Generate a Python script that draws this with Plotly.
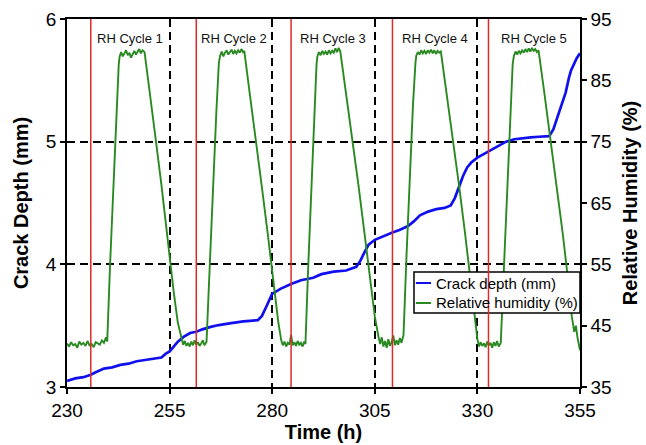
import plotly.graph_objects as go

# ---------------- data ----------------
crack_hours = [230.0, 232.0, 234.0, 235.8, 237.0, 239.0, 241.0, 243.0, 245.0, 247.0,
               249.0, 251.0, 253.0, 254.0, 255.0, 256.0, 257.0, 258.5, 260.0, 261.5,
               263.0, 265.0, 267.0, 270.0, 273.0, 276.5, 277.5, 278.5, 279.3, 280.0,
               281.0, 282.0, 284.6, 287.0, 290.0, 292.0, 295.0, 298.0, 300.5, 301.5,
               302.5, 303.5, 305.0, 307.0, 309.3, 311.0, 313.0, 314.5, 316.0, 318.0,
               320.0, 322.0, 323.5, 324.5, 325.5, 326.5, 327.5, 328.5, 330.0, 332.8,
               335.0, 337.0, 339.0, 341.0, 343.0, 345.0, 347.5, 348.5, 349.5, 350.5,
               351.5, 352.3, 352.8, 353.5, 354.2, 355.0]
crack_mm = [3.05, 3.07, 3.08, 3.10, 3.12, 3.15, 3.16, 3.18, 3.19, 3.21,
            3.22, 3.23, 3.24, 3.27, 3.29, 3.33, 3.37, 3.41, 3.44, 3.45,
            3.47, 3.49, 3.505, 3.52, 3.535, 3.545, 3.58, 3.65, 3.71, 3.76,
            3.78, 3.80, 3.84, 3.87, 3.89, 3.92, 3.94, 3.95, 3.98, 4.03,
            4.10, 4.16, 4.20, 4.23, 4.26, 4.28, 4.31, 4.35, 4.40, 4.43,
            4.45, 4.46, 4.48, 4.54, 4.63, 4.72, 4.79, 4.83, 4.87, 4.92,
            4.96, 5.00, 5.02, 5.03, 5.035, 5.04, 5.045, 5.10, 5.20, 5.30,
            5.40, 5.52, 5.58, 5.63, 5.68, 5.72]

rh_hours = [230.0, 230.5, 231.0, 231.5, 232.0, 232.5, 233.0, 233.5, 234.0, 234.5,
            235.0, 235.5, 236.0, 236.5, 237.0, 237.5, 238.0, 238.5, 239.0, 239.5,
            239.8, 240.5, 241.3, 242.0, 242.6,
            242.8, 243.2, 243.6, 244.0, 244.4, 244.8, 245.2, 245.6, 246.0, 246.4,
            246.8, 247.2, 247.6, 248.0, 248.4, 248.9,
            250.0, 251.5, 253.0, 254.5, 256.0, 257.0, 257.9,
            258.3, 258.7, 259.1, 259.5, 259.9, 260.3, 260.7, 261.1, 261.5, 261.9,
            262.3, 262.7, 263.1, 263.5, 264.0,
            264.8, 265.6, 266.4, 267.0,
            267.3, 267.7, 268.1, 268.5, 268.9, 269.3, 269.7, 270.1, 270.5, 270.9,
            271.3, 271.7, 272.1, 272.5, 272.9, 273.2,
            274.5, 276.0, 277.5, 279.0, 280.5, 281.5, 282.2,
            282.6, 283.0, 283.4, 283.8, 284.2, 284.6, 285.0, 285.4, 285.8, 286.2,
            286.6, 287.0, 287.4, 287.8, 288.1,
            288.8, 289.6, 290.3, 290.8,
            291.0, 291.4, 291.8, 292.2, 292.6, 293.0, 293.4, 293.8, 294.2, 294.6,
            295.0, 295.4, 295.8, 296.2, 296.6,
            298.0, 299.5, 301.0, 302.5, 304.0, 305.0, 305.9,
            306.3, 306.7, 307.1, 307.5, 307.9, 308.3, 308.7, 309.1, 309.5, 309.9,
            310.3, 310.7, 311.1, 311.5, 312.0,
            312.7, 313.5, 314.3, 314.9,
            315.1, 315.5, 315.9, 316.3, 316.7, 317.1, 317.5, 317.9, 318.3, 318.7,
            319.1, 319.5, 319.9, 320.3, 320.7, 321.1,
            322.5, 324.0, 325.5, 327.0, 328.5, 329.3, 330.0,
            330.4, 330.8, 331.2, 331.6, 332.0, 332.4, 332.8, 333.2, 333.6, 334.0,
            334.4, 334.8, 335.2, 335.7,
            336.5, 337.3, 338.0, 338.6,
            338.9, 339.3, 339.7, 340.1, 340.5, 340.9, 341.3, 341.7, 342.1, 342.5,
            342.9, 343.3, 343.7, 344.1, 344.5, 344.9,
            346.3, 347.8, 349.3, 350.8, 352.0, 353.0, 353.6, 354.0, 354.4, 355.0]
rh_pct = [42.1, 41.6, 42.3, 41.8, 42.0, 41.4, 42.4, 41.9, 42.2, 41.7,
          42.5, 41.8, 42.0, 41.5, 42.3, 42.1, 41.9, 42.6, 42.2, 43.1,
          42.4, 55.0, 68.0, 80.0, 87.5,
          88.8, 89.6, 88.9, 89.3, 89.9, 89.1, 89.5, 88.7, 89.4, 89.8,
          89.2, 89.6, 90.1, 89.4, 89.9, 89.6,
          83.5, 76.0, 68.0, 59.0, 50.5, 45.5, 42.8,
          41.9, 42.5, 41.7, 42.2, 41.6, 42.4, 41.8, 42.6, 41.9, 42.3,
          41.7, 42.1, 42.6, 41.8, 42.4,
          55.0, 68.0, 80.0, 87.8,
          89.0, 89.7, 88.9, 89.5, 89.9, 89.2, 89.6, 90.0, 89.3, 89.8,
          89.4, 89.9, 89.5, 90.1, 89.6, 89.8,
          83.0, 75.5, 67.5, 59.5, 51.0, 45.5, 42.6,
          41.8, 42.4, 41.6, 42.2, 41.9, 43.5, 41.8, 42.3, 41.7, 42.5,
          41.9, 42.2, 41.6, 42.4, 42.0,
          55.0, 69.0, 80.0, 87.6,
          88.9, 89.6, 89.1, 89.8, 89.3, 89.7, 89.2, 89.9, 89.4, 89.8,
          89.5, 90.2, 89.6, 90.3, 89.7,
          83.0, 75.5, 68.0, 60.0, 52.0, 46.5, 43.2,
          42.0, 43.1, 41.6, 42.5, 41.4, 42.8, 41.7, 42.3, 43.4, 41.8,
          42.6, 41.9, 43.0, 42.2, 43.5,
          56.0, 69.0, 81.0, 87.8,
          89.0, 89.6, 89.2, 89.9, 89.4, 89.8, 89.3, 89.9, 89.5, 90.0,
          89.4, 89.9, 89.3, 89.8, 89.5, 89.7,
          83.0, 75.5, 68.0, 60.0, 51.5, 46.5, 42.8,
          41.6, 42.3, 41.7, 42.1, 41.5, 42.4, 41.8, 42.2, 41.4, 42.3,
          41.7, 42.5, 41.6, 42.2,
          55.0, 68.0, 80.0, 87.7,
          89.0, 89.7, 89.2, 89.8, 89.4, 89.9, 89.5, 90.1, 89.6, 90.2,
          89.7, 90.3, 89.8, 90.1, 89.6, 89.9,
          83.0, 75.5, 68.0, 60.0, 53.0, 46.5, 44.0, 45.0, 43.0, 41.0]

cycle_start = [235.8, 261.5, 284.6, 309.3, 332.7]
cycle_end = [255, 280, 305, 330, 355]
cycle_labels = ["RH Cycle 1", "RH Cycle 2", "RH Cycle 3", "RH Cycle 4", "RH Cycle 5"]

x_ticks = [230, 255, 280, 305, 330, 355]
y_ticks = [3, 4, 5, 6]
rh_ticks = [35, 45, 55, 65, 75, 85, 95]

series_names = ["Crack depth (mm)", "Relative humidity (%)"]
BLUE = "#1010ee"
GREEN = "#2a8a22"
RED = "#e02828"
FONT = "Liberation Sans, Arial, Helvetica, sans-serif"

fig = go.Figure()
fig.add_trace(go.Scatter(x=rh_hours, y=rh_pct, mode="lines", yaxis="y2",
                         name=series_names[1], showlegend=False,
                         line=dict(color=GREEN, width=1.9)))
fig.add_trace(go.Scatter(x=crack_hours, y=crack_mm, mode="lines",
                         name=series_names[0], showlegend=False,
                         line=dict(color=BLUE, width=2.7)))

# custom legend box (opaque, drawn over data, under the red markers)
fig.add_shape(type="rect", xref="paper", yref="paper",
              x0=0.6764, x1=1.0, y0=0.201, y1=0.3125,
              fillcolor="white", line=dict(color="black", width=1.5), layer="above")
for yy, col, nm in [(0.2826, BLUE, series_names[0]), (0.2283, GREEN, series_names[1])]:
    fig.add_shape(type="line", xref="paper", yref="paper",
                  x0=0.680, x1=0.7096, y0=yy, y1=yy,
                  line=dict(color=col, width=2), layer="above")
    fig.add_annotation(x=0.7154, y=yy, xref="paper", yref="paper",
                       xanchor="left", yanchor="middle", text=nm, showarrow=False,
                       font=dict(size=15, color="black", family=FONT))

for xs in cycle_start:
    fig.add_shape(type="line", xref="x", yref="paper", x0=xs, x1=xs, y0=0, y1=1,
                  line=dict(color=RED, width=1.5), layer="above")

for xs, xe, lab in zip(cycle_start, cycle_end, cycle_labels):
    fig.add_annotation(x=(xs + xe) / 2, xref="x", y=0.948, yref="paper",
                       xanchor="center", yanchor="middle",
                       text=lab, showarrow=False,
                       font=dict(size=13, color="#111", family=FONT))

common = dict(ticks="outside", ticklen=5, tickwidth=1.5, tickcolor="black",
              tickfont=dict(size=19), automargin=False, zeroline=False)

fig.update_layout(
    width=646, height=445,
    margin=dict(l=67, r=66, t=19, b=58),
    paper_bgcolor="white", plot_bgcolor="white",
    font=dict(family=FONT, color="black"),
    showlegend=False,
    xaxis=dict(range=[230, 355], tickvals=x_ticks, **common,
               showline=True, linecolor="black", linewidth=1.5, mirror=True,
               showgrid=True, gridcolor="black", gridwidth=1.6, griddash="8px,5px",
               title=dict(text="<b>Time (h)</b>", font=dict(size=20), standoff=2)),
    yaxis=dict(range=[3, 6], tickvals=y_ticks, **common,
               showline=True, linecolor="black", linewidth=1.5, mirror=True,
               showgrid=True, gridcolor="black", gridwidth=1.6, griddash="8px,5px",
               title=dict(text="<b>Crack Depth (mm)</b>", font=dict(size=20), standoff=12)),
    yaxis2=dict(range=[35, 95], tickvals=rh_ticks, overlaying="y", side="right",
                **common,
                showline=True, linecolor="black", linewidth=1.5, showgrid=False,
                title=dict(text="<b>Relative Humidity (%)</b>", font=dict(size=20), standoff=12)),
    # inside halves of the crossing tick marks
    xaxis2=dict(range=[230, 355], tickvals=x_ticks, overlaying="x", anchor="y",
                side="bottom", ticks="inside", ticklen=5, tickwidth=1.5,
                tickcolor="black", showticklabels=False, showgrid=False,
                zeroline=False, showline=False, automargin=False),
    yaxis3=dict(range=[3, 6], tickvals=y_ticks, overlaying="y", anchor="x",
                side="left", ticks="inside", ticklen=5, tickwidth=1.5,
                tickcolor="black", showticklabels=False, showgrid=False,
                zeroline=False, showline=False, automargin=False),
    yaxis4=dict(range=[35, 95], tickvals=rh_ticks, overlaying="y", anchor="x",
                side="right", ticks="inside", ticklen=5, tickwidth=1.5,
                tickcolor="black", showticklabels=False, showgrid=False,
                zeroline=False, showline=False, automargin=False),
)

fig.write_html("out.html")
